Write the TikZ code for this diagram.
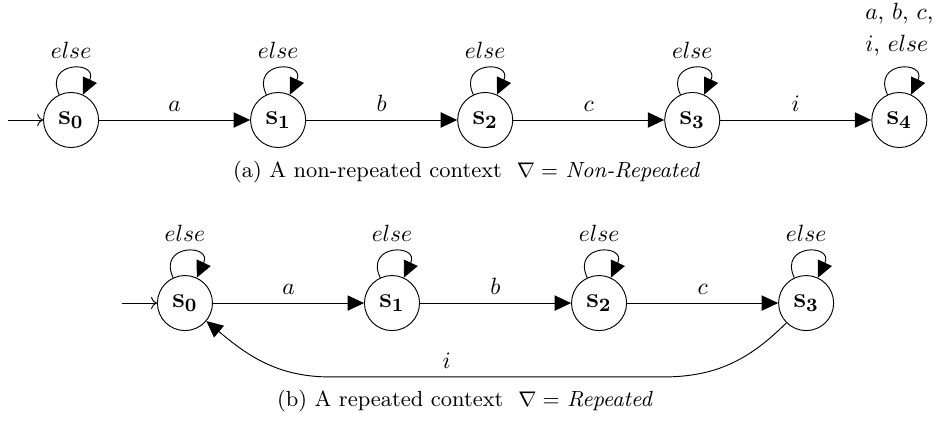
\documentclass[tikz,border=0pt]{standalone}
\usepackage{amsmath, amssymb}
\usetikzlibrary{arrows.meta, positioning}

\begin{document}
\begin{tikzpicture}[
    state/.style={draw, circle, minimum size=23.4pt, inner sep=0pt, font=\large\bfseries},
    trans/.style={-{Triangle[length=7pt,width=6.5pt]}},
    self/.style={trans, loop above, min distance=16pt, out=115, in=65},
    caption/.style={font=\fontsize{9.3}{11}\selectfont},
    node distance=64.2pt
  ]
  \useasboundingbox (0,0) rectangle (397.8pt,179.8pt);
  % (a) non-repeated context
  \node[state] (a0) at (30.2pt,128.8pt) {$\mathbf{s_0}$};
  \node[state, right=of a0] (a1) {$\mathbf{s_1}$};
  \node[state, right=of a1] (a2) {$\mathbf{s_2}$};
  \node[state, right=of a2] (a3) {$\mathbf{s_3}$};
  \node[state, right=of a3] (a4) {$\mathbf{s_4}$};
  \coordinate[left=15pt of a0] (a-in);
  \draw[->] (a-in) -- (a0);
  \draw[trans] (a0) -- node[above] {$a$} (a1);
  \draw[trans] (a1) -- node[above] {$b$} (a2);
  \draw[trans] (a2) -- node[above] {$c$} (a3);
  \draw[trans] (a3) -- node[above] {$i$} (a4);
  \draw[self] (a0) to node[above=1pt] {$else$} (a0);
  \draw[self] (a1) to node[above=1pt] {$else$} (a1);
  \draw[self] (a2) to node[above=1pt] {$else$} (a2);
  \draw[self] (a3) to node[above=1pt] {$else$} (a3);
  \draw[self] (a4) to node[above=2pt, align=left] {$a$, $b$, $c$,\\[1.5pt] $i$, $else$} (a4);
  \node[caption] (capa) at (198.3pt,106.7pt) {(a) A non-repeated context\ \ $\nabla = $ \textit{Non-Repeated}};
  % (b) repeated context
  \node[state] (b0) at (78.6pt,51pt) {$\mathbf{s_0}$};
  \node[state, right=of b0] (b1) {$\mathbf{s_1}$};
  \node[state, right=of b1] (b2) {$\mathbf{s_2}$};
  \node[state, right=of b2] (b3) {$\mathbf{s_3}$};
  \coordinate[left=15pt of b0] (b-in);
  \draw[->] (b-in) -- (b0);
  \draw[trans] (b0) -- node[above] {$a$} (b1);
  \draw[trans] (b1) -- node[above] {$b$} (b2);
  \draw[trans] (b2) -- node[above] {$c$} (b3);
  % way back from s3 to s0
  \coordinate (back-r) at (281.8pt,19.6pt);
  \coordinate (back-l) at (140.3pt,19.6pt);
  \draw[trans] (b3) to[out=-135, in=0] (back-r) -- node[pos=0.65, above] {$i$} (back-l) to[out=180, in=-40] (b0);
  \draw[self] (b0) to node[above=1pt] {$else$} (b0);
  \draw[self] (b1) to node[above=1pt] {$else$} (b1);
  \draw[self] (b2) to node[above=1pt] {$else$} (b2);
  \draw[self] (b3) to node[above=1pt] {$else$} (b3);
  \node[caption] (capb) at (197.6pt,9.4pt) {(b) A repeated context\ \ $\nabla = $ \textit{Repeated}};
\end{tikzpicture}
\end{document}
